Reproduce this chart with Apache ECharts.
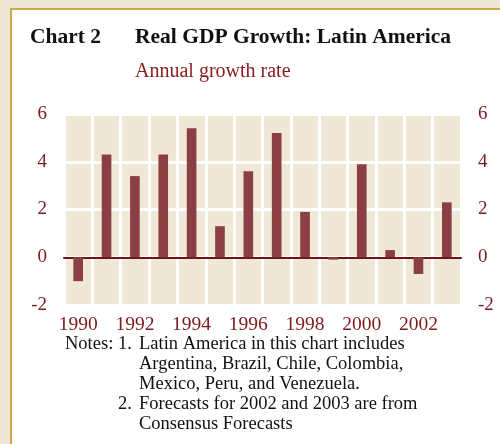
<!DOCTYPE html>
<html>
<head>
<meta charset="utf-8">
<script src="https://cdn.jsdelivr.net/npm/echarts@6/dist/echarts.min.js"></script>
<style>
html, body { margin: 0; padding: 0; background: #efe8d6; }
#main { width: 500px; height: 444px; }
</style>
</head>
<body>
<div id="main"></div>
<script>
var years = ['1990', '1991', '1992', '1993', '1994', '1995', '1996', '1997', '1998', '1999', '2000', '2001', '2002', '2003'];
var growth = [-1.0, 4.3, 3.4, 4.3, 5.4, 1.3, 3.6, 5.2, 1.9, -0.1, 3.9, 0.3, -0.7, 2.3];
var noteLines = [
	['Notes:', '1.', 'Latin America in this chart includes'],
	['', '', 'Argentina, Brazil, Chile, Colombia,'],
	['', '', 'Mexico, Peru, and Venezuela.'],
	['', '2.', 'Forecasts for 2002 and 2003 are from'],
	['', '', 'Consensus Forecasts']
];

var red = '#7d1a1c';
var serif = '"Liberation Serif", "Times New Roman", serif';

// 标题和注释文字
var graphics = [
	{ type: 'rect', left: 10, top: 8, shape: { width: 500, height: 450 }, style: { fill: '#fff', stroke: '#c9a94c', lineWidth: 2 }, z: -10 },
	{ type: 'text', x: 30, y: 37, style: { text: 'Chart 2', font: 'bold 21.5px ' + serif, fill: '#111', textVerticalAlign: 'middle' } },
	{ type: 'text', x: 135, y: 37, style: { text: 'Real GDP Growth: Latin America', font: 'bold 21.5px ' + serif, fill: '#111', textVerticalAlign: 'middle' } },
	{ type: 'text', x: 135, y: 72, style: { text: 'Annual growth rate', font: '20px ' + serif, fill: '#8b1a1c', textVerticalAlign: 'middle' } }
];
noteLines.forEach(function(l, i) {
	var y = 344 + i * 20;
	if (l[0]) graphics.push({ type: 'text', x: 65, y: y, style: { text: l[0], font: '18.5px ' + serif, fill: '#111', textVerticalAlign: 'middle' } });
	if (l[1]) graphics.push({ type: 'text', x: 118, y: y, style: { text: l[1], font: '18.5px ' + serif, fill: '#111', textVerticalAlign: 'middle' } });
	graphics.push({ type: 'text', x: 139, y: y, style: { text: l[2], font: '18.5px ' + serif, fill: '#111', textVerticalAlign: 'middle' } });
});

var myChart = echarts.init(document.getElementById('main'));
var yAxisBase = {
	type: 'value',
	min: -2,
	max: 6,
	interval: 2,
	axisLine: { show: false },
	axisTick: { show: false },
	axisLabel: { color: red, fontFamily: serif, fontSize: 19, margin: 17 }
};
var option = {
	backgroundColor: '#efe8d6',
	animation: false,
	grid: {
		left: 64,
		right: 39,
		top: 114,
		bottom: 139,
		show: true,
		backgroundColor: '#efe8d6',
		borderWidth: 0
	},
	xAxis: {
		type: 'category',
		data: years,
		axisTick: { show: false },
		axisLine: { onZero: true, lineStyle: { color: '#6e1416', width: 2 } },
		axisLabel: { interval: 1, color: red, fontFamily: serif, fontSize: 19.5, margin: 10 },
		splitLine: { show: true, interval: 0, lineStyle: { color: '#fff', width: 3 } }
	},
	yAxis: [
		Object.assign({}, yAxisBase, {
			position: 'left',
			splitLine: { show: true, lineStyle: { color: '#fff', width: 3 } }
		}),
		Object.assign({}, yAxisBase, {
			position: 'right',
			splitLine: { show: false }
		})
	],
	series: [{
		type: 'bar',
		data: growth,
		barWidth: '34%',
		itemStyle: { color: '#8b3f43' },
		z: 3
	}],
	graphic: graphics
};
myChart.setOption(option);
</script>
</body>
</html>
